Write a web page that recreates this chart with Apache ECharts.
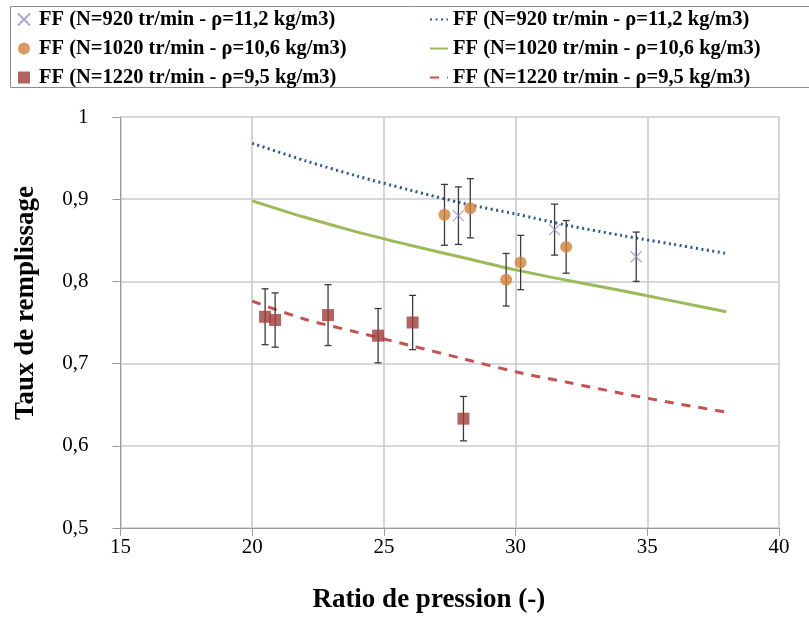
<!DOCTYPE html>
<html>
<head>
<meta charset="utf-8">
<script src="https://cdn.jsdelivr.net/npm/echarts@6/dist/echarts.min.js"></script>
<style>html,body{margin:0;padding:0;background:#fff}#c{width:809px;height:619px}</style>
</head>
<body>
<div id="c"></div>
<script>
// Measured points (x = ratio de pression, y = taux de remplissage, err = half error bar)
const ff920_x = [27.83, 31.48, 34.58];
const ff920_y = [0.880, 0.863, 0.830];
const ff920_err = [0.035, 0.031, 0.030];
const ff1020_x = [27.30, 28.28, 29.64, 30.19, 31.92];
const ff1020_y = [0.881, 0.889, 0.802, 0.823, 0.842];
const ff1020_err = [0.037, 0.036, 0.032, 0.033, 0.032];
const ff1220_x = [20.49, 20.87, 22.88, 24.78, 26.09, 28.02];
const ff1220_y = [0.757, 0.753, 0.759, 0.734, 0.750, 0.633];
const ff1220_err = [0.034, 0.033, 0.037, 0.033, 0.033, 0.027];
// Model curves
const fitX = [20, 22, 24, 26, 28, 30, 32, 34, 36, 38];
const fit920 = [0.968, 0.947, 0.928, 0.911, 0.895, 0.882, 0.868, 0.856, 0.845, 0.834];
const fit1020 = [0.898, 0.878, 0.860, 0.844, 0.829, 0.814, 0.801, 0.789, 0.776, 0.763];
const fit1220 = [0.776, 0.754, 0.738, 0.722, 0.706, 0.690, 0.677, 0.664, 0.652, 0.641];

const name920 = 'FF (N=920 tr/min - ρ=11,2 kg/m3)';
const name1020 = 'FF (N=1020 tr/min - ρ=10,6 kg/m3)';
const name1220 = 'FF (N=1220 tr/min - ρ=9,5 kg/m3)';
const xTitle = 'Ratio de pression (-)';
const yTitle = 'Taux de remplissage';

const serif = '"Liberation Serif", "Times New Roman", serif';
const pts = (xs, ys) => xs.map((x, i) => [x, ys[i]]);
const errs = (xs, ys, es) => xs.map((x, i) => [x, ys[i] - es[i], ys[i] + es[i]]);

function errSeries(data) {
  return {
    type: 'custom', silent: true, z: 3,
    renderItem: function (params, api) {
      const x = api.value(0), lo = api.value(1), hi = api.value(2);
      const p1 = api.coord([x, lo]), p2 = api.coord([x, hi]);
      const w = 3.5;
      const st = { stroke: '#3a3a3a', lineWidth: 1.3 };
      return { type: 'group', children: [
        { type: 'line', shape: { x1: p1[0], y1: p1[1], x2: p2[0], y2: p2[1] }, style: st },
        { type: 'line', shape: { x1: p1[0] - w, y1: p1[1], x2: p1[0] + w, y2: p1[1] }, style: st },
        { type: 'line', shape: { x1: p2[0] - w, y1: p2[1], x2: p2[0] + w, y2: p2[1] }, style: st }
      ]};
    },
    encode: { x: 0, y: [1, 2] },
    data: data
  };
}

const chart = echarts.init(document.getElementById('c'), null, { renderer: 'canvas' });
const legendText = { fontFamily: serif, fontWeight: 'bold', fontSize: 20.5, color: '#000' };
chart.setOption({
  animation: false,
  backgroundColor: '#fff',
  graphic: [{
    type: 'rect', shape: { x: 10.5, y: 6.5, width: 820, height: 81 },
    style: { fill: 'none', stroke: '#8c8c8c', lineWidth: 1 }, silent: true
  }],
  legend: [{
    orient: 'vertical', left: 17, top: 9, padding: 0, itemGap: 8,
    itemWidth: 12, itemHeight: 12,
    data: [name920, name1020, name1220],
    textStyle: Object.assign({ padding: [0, 0, 0, 4] }, legendText)
  }, {
    orient: 'vertical', left: 429, top: 9, padding: 0, itemGap: 8,
    itemWidth: 18, itemHeight: 12,
    itemStyle: { opacity: 0 },
    data: [name920 + ' ', name1020 + ' ', name1220 + ' '],
    textStyle: legendText
  }],
  grid: { left: 120.5, right: 30, top: 117, bottom: 88.5, containLabel: false },
  xAxis: {
    type: 'value', min: 15, max: 40, interval: 5,
    name: xTitle, nameLocation: 'middle', nameGap: 59,
    nameTextStyle: { fontFamily: serif, fontWeight: 'bold', fontSize: 27, color: '#000', padding: [0, 42, 0, 0] },
    axisLine: { show: true, lineStyle: { color: '#9a9a9a', width: 1 } },
    axisTick: { show: true, length: 8, lineStyle: { color: '#9a9a9a' } },
    axisLabel: { fontFamily: serif, fontSize: 21, color: '#000', margin: 9 },
    splitLine: { show: true, lineStyle: { color: '#cbcbcb', width: 1.6 } }
  },
  yAxis: {
    type: 'value', min: 0.5, max: 1, interval: 0.1,
    name: yTitle, nameLocation: 'middle', nameGap: 81, nameRotate: 90,
    nameTextStyle: { fontFamily: serif, fontWeight: 'bold', fontSize: 27, color: '#000', padding: [0, 0, 0, 39] },
    axisLine: { show: true, lineStyle: { color: '#9a9a9a', width: 1 } },
    axisTick: { show: true, length: 8, lineStyle: { color: '#9a9a9a' } },
    axisLabel: { fontFamily: serif, fontSize: 21, color: '#000', margin: 32,
      formatter: v => String(+v.toFixed(1)).replace('.', ',') },
    splitLine: { show: true, lineStyle: { color: '#cbcbcb', width: 1.6 } }
  },
  series: [
    { name: name920 + ' ', type: 'line', showSymbol: false, symbol: 'none', smooth: 0.3, z: 2,
      data: pts(fitX, fit920), color: '#2b5797',
      lineStyle: { color: '#2b5797', width: 3, type: [2, 3.5] } },
    { name: name1020 + ' ', type: 'line', showSymbol: false, symbol: 'none', smooth: 0.3, z: 2,
      data: pts(fitX, fit1020), color: '#9bbb59',
      lineStyle: { color: '#9bbb59', width: 3 } },
    { name: name1220 + ' ', type: 'line', showSymbol: false, symbol: 'none', smooth: 0.3, z: 2,
      data: pts(fitX, fit1220), color: '#c8504d',
      lineStyle: { color: '#c8504d', width: 3, type: [9, 8] } },
    errSeries(errs(ff920_x, ff920_y, ff920_err)),
    errSeries(errs(ff1020_x, ff1020_y, ff1020_err)),
    errSeries(errs(ff1220_x, ff1220_y, ff1220_err)),
    { name: name920, type: 'scatter', z: 4,
      symbol: 'path://M0,0L10,10M10,0L0,10', symbolSize: 11,
      itemStyle: { color: 'rgba(0,0,0,0)', borderColor: '#9b8ec4', borderWidth: 1.3 },
      data: pts(ff920_x, ff920_y) },
    { name: name1020, type: 'scatter', z: 4, symbol: 'circle', symbolSize: 12,
      itemStyle: { color: '#d27f36' }, data: pts(ff1020_x, ff1020_y) },
    { name: name1220, type: 'scatter', z: 4, symbol: 'rect', symbolSize: 12,
      itemStyle: { color: '#a03c3b' }, data: pts(ff1220_x, ff1220_y) }
  ]
});
</script>
</body>
</html>
